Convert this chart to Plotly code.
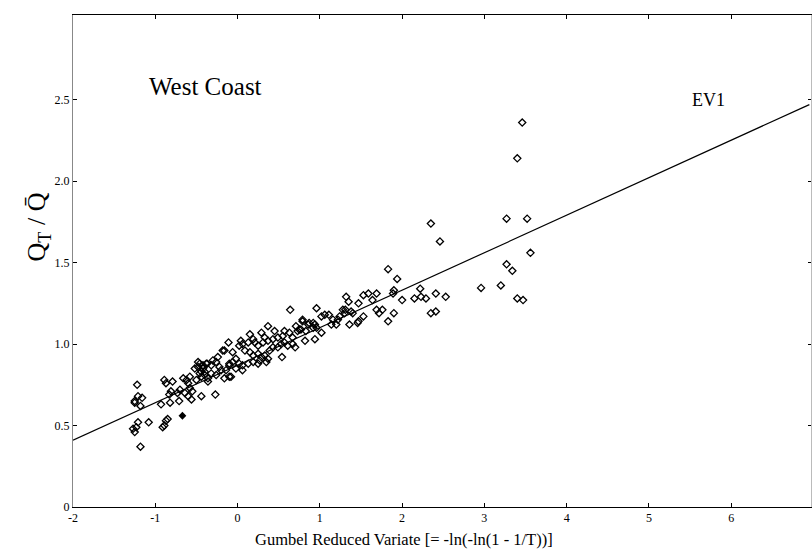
import plotly.graph_objects as go

# observed points (Gumbel reduced variate, Q_T / Q-mean)
obs_x = [-1.18,-1.22,-1.25,-1.21,-1.16,-1.25,-1.18,-1.27,-1.25,-1.23,-1.21,-1.08,-0.91,-0.89,-0.87,-0.85,
         -0.93,-0.82,-0.71,-0.89,-0.87,-0.79,-0.83,-0.81,-0.73,-0.70,-0.64,-0.60,-0.56,-0.44,-0.66,-0.62,
         -0.58,-0.60,-0.58,-0.55,
         -0.52,-0.48,-0.46,-0.42,-0.40,-0.37,-0.50,-0.44,-0.36,-0.32,-0.26,-0.27,-0.14,-0.10,-0.16,-0.11,
         -0.18,-0.30,-0.26,-0.38,-0.32,-0.22,-0.46,-0.42,-0.44,-0.40,-0.36,-0.20,-0.08,-0.16,-0.10,-0.02,
         -0.02,-0.06,-0.10,-0.48,-0.24,-0.06,
         0.04,0.06,0.02,0.09,0.15,0.19,0.25,0.29,0.33,0.39,0.43,0.49,0.53,0.57,0.61,0.67,0.54,0.02,0.06,
         0.13,0.19,0.25,0.27,0.35,0.37,0.06,0.15,0.19,0.13,0.21,0.25,0.29,0.33,0.37,0.31,0.45,0.49,0.43,
         0.57,0.63,0.67,0.55,0.37,0.71,0.75,0.73,0.79,0.86,0.92,0.96,0.64,0.96,0.77,0.83,0.92,0.94,0.87,
         0.94,0.79,0.70,0.82,
         1.02,1.06,1.11,1.02,1.16,1.22,1.24,1.28,1.30,1.14,1.20,1.32,1.35,1.31,1.38,1.40,1.36,1.47,1.53,
         1.46,1.47,1.53,1.59,1.64,1.69,1.69,1.76,1.72,1.90,1.83,1.83,1.94,1.90,1.89,
         2.00,2.15,2.22,2.23,2.29,2.41,2.53,2.35,2.41,2.35,2.46,2.96,3.20,3.27,3.34,3.40,3.47,3.56,3.27,
         3.52,3.40,3.46]
obs_y = [0.37,0.75,0.65,0.68,0.67,0.64,0.62,0.48,0.46,0.49,0.52,0.52,0.49,0.50,0.53,0.54,
         0.63,0.64,0.65,0.78,0.76,0.77,0.69,0.71,0.70,0.72,0.70,0.68,0.66,0.68,0.79,0.78,
         0.80,0.76,0.73,0.71,
         0.85,0.89,0.82,0.87,0.83,0.88,0.78,0.80,0.79,0.82,0.81,0.69,0.84,0.80,0.96,1.01,
         0.96,0.90,0.89,0.88,0.87,0.86,0.88,0.85,0.83,0.81,0.77,0.84,0.80,0.79,0.87,0.85,
         0.91,0.89,0.88,0.86,0.92,0.95,
         1.02,1.00,0.99,0.96,0.95,0.93,0.94,0.92,0.93,0.96,0.98,0.98,1.00,1.01,0.99,1.00,0.92,0.88,0.87,
         0.88,0.89,0.88,0.90,0.89,0.91,0.84,1.06,1.03,1.01,1.01,0.99,1.07,1.04,1.02,1.01,1.08,1.04,1.03,
         1.08,1.07,1.04,1.05,1.11,1.11,1.09,1.08,1.14,1.12,1.13,1.10,1.21,1.22,1.09,1.08,1.10,1.03,1.13,
         1.12,1.15,0.98,1.02,
         1.07,1.18,1.18,1.17,1.15,1.15,1.17,1.21,1.19,1.12,1.12,1.29,1.26,1.21,1.20,1.19,1.12,1.14,1.17,
         1.13,1.25,1.30,1.31,1.27,1.31,1.21,1.21,1.19,1.19,1.14,1.46,1.40,1.33,1.31,
         1.27,1.28,1.34,1.29,1.28,1.31,1.29,1.19,1.20,1.74,1.63,1.345,1.36,1.49,1.45,1.28,1.27,1.56,1.77,
         1.77,2.14,2.36]

# single filled point
filled_x = [-0.67]
filled_y = [0.56]

# EV1 line end points
ev1_x = [-2.0, 6.95]
ev1_y = [0.41, 2.47]

x_ticks = [-2, -1, 0, 1, 2, 3, 4, 5, 6]
x_tick_text = ["-2", "-1", "0", "1", "2", "3", "4", "5", "6"]
y_ticks = [0, 0.5, 1.0, 1.5, 2.0, 2.5]
y_tick_text = ["0", "0.5", "1.0", "1.5", "2.0", "2.5"]
top_ticks = [-1, 0, 1, 2, 3, 4, 5, 6]

FONT = "Liberation Serif"

fig = go.Figure()
fig.add_trace(go.Scatter(x=ev1_x, y=ev1_y, mode="lines",
                         line=dict(color="black", width=1.2), showlegend=False))
fig.add_trace(go.Scatter(x=obs_x, y=obs_y, mode="markers",
                         marker=dict(symbol="diamond-open", size=5.5, color="black",
                                     line=dict(width=1.3, color="black")), showlegend=False))
fig.add_trace(go.Scatter(x=filled_x, y=filled_y, mode="markers",
                         marker=dict(symbol="diamond", size=6, color="black"), showlegend=False))
fig.add_trace(go.Scatter(x=[None], y=[None], xaxis="x2", showlegend=False))
fig.add_trace(go.Scatter(x=[None], y=[None], yaxis="y2", showlegend=False))

fig.add_annotation(x=-0.39, y=2.58, text="West Coast", showarrow=False,
                   font=dict(family=FONT, size=25, color="black"))
fig.add_annotation(x=5.73, y=2.50, text="EV1", showarrow=False,
                   font=dict(family=FONT, size=18, color="black"))
# axis titles placed as in the reference
fig.add_annotation(xref="paper", yref="paper", x=-0.072, y=0.57, text="Q<sub>T</sub> / Q\u0304",
                   textangle=-90, showarrow=False, font=dict(family=FONT, size=26, color="black"))
fig.add_annotation(xref="paper", yref="paper", x=0.449, y=-0.066, yanchor="middle",
                   text="Gumbel Reduced Variate [= -ln(-ln(1 - 1/T))]",
                   showarrow=False, font=dict(family=FONT, size=16.5, color="black"))

fig.update_layout(
    width=812, height=550,
    margin=dict(l=73, r=1, t=15, b=43),
    paper_bgcolor="white", plot_bgcolor="white",
    font=dict(family=FONT, color="black"),
    xaxis=dict(range=[-2, 6.97], tickvals=x_ticks, ticktext=x_tick_text,
               showgrid=False, zeroline=False, showline=True, linecolor="black", linewidth=1,
               ticks="inside", ticklen=4, tickcolor="black", tickfont=dict(size=12)),
    xaxis2=dict(range=[-2, 6.97], overlaying="x", side="top", tickvals=top_ticks,
                showticklabels=False, showgrid=False, zeroline=False, showline=True,
                linecolor="black", linewidth=1, ticks="inside", ticklen=4, tickcolor="black"),
    yaxis=dict(range=[0, 3.02], tickvals=y_ticks, ticktext=y_tick_text,
               showgrid=False, zeroline=False, showline=True, linecolor="#888", linewidth=1,
               ticks="inside", ticklen=4, tickcolor="black", tickfont=dict(size=12)),
    yaxis2=dict(range=[0, 3.02], overlaying="y", side="right", tickvals=y_ticks,
                showticklabels=False, showgrid=False, zeroline=False, showline=True,
                linecolor="#bbb", linewidth=1, ticks="inside", ticklen=3, tickcolor="black"),
)

fig.write_html("out.html")
